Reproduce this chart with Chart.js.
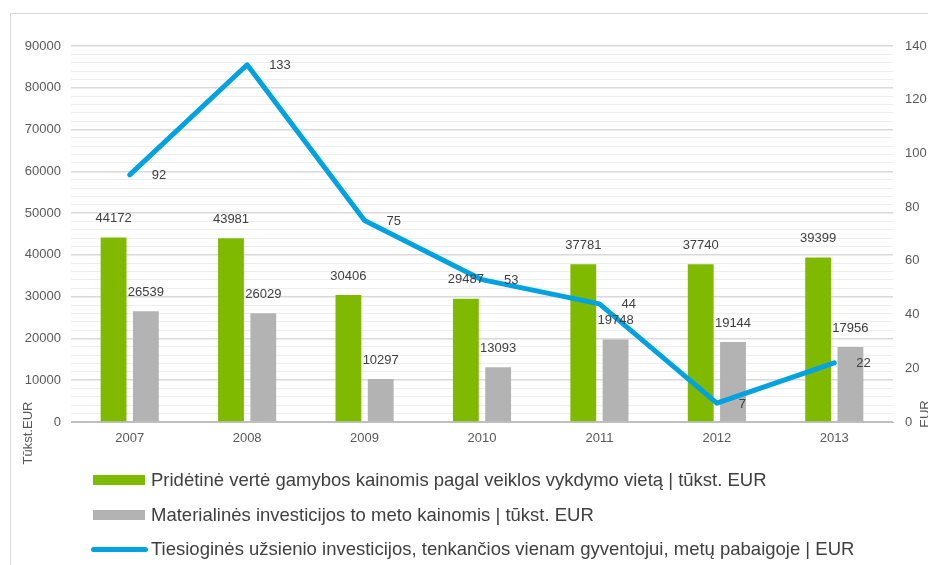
<!DOCTYPE html>
<html>
<head>
<meta charset="utf-8">
<script src="https://cdn.jsdelivr.net/npm/chart.js@4/dist/chart.umd.min.js"></script>
<style>
  html, body { margin: 0; padding: 0; background: #fff; }
  body { width: 928px; height: 565px; position: relative; overflow: hidden; font-family: "Liberation Sans", Arial, sans-serif; }
  .frame { position: absolute; left: 10px; top: 13px; width: 940px; height: 600px; border: 1px solid #d9d9d9; box-sizing: border-box; }
  .chart-wrap { position: absolute; left: 0; top: 0; width: 928px; height: 565px; }
  .legend { position: absolute; left: 91px; top: 463px; color: #404040; font-size: 18.5px; }
  .legend-row { display: flex; align-items: center; height: 34.5px; }
  .swatch { width: 52px; height: 10px; margin: 0 6px 0 2px; }
  .swatch-line { width: 57px; height: 5px; border-radius: 3px; margin-right: 3px; }
</style>
</head>
<body>
<div class="frame"></div>
<div class="chart-wrap"><canvas id="chart" width="928" height="565"></canvas></div>
<div class="legend" id="legend"></div>

<script>
// Data
const years = ["2007", "2008", "2009", "2010", "2011", "2012", "2013"];
const addedValue = [44172, 43981, 30406, 29487, 37781, 37740, 39399];
const tangibleInvest = [26539, 26029, 10297, 13093, 19748, 19144, 17956];
const fdiPerCapita = [92, 133, 75, 53, 44, 7, 22];

const seriesNames = [
  "Pridėtinė vertė gamybos kainomis pagal veiklos vykdymo vietą | tūkst. EUR",
  "Materialinės investicijos to meto kainomis | tūkst. EUR",
  "Tiesioginės užsienio investicijos, tenkančios vienam gyventojui, metų pabaigoje | EUR"
];

const GREEN = "#7fba00";
const GRAY = "#b3b3b3";
const BLUE = "#00a2df";
const TEXT = "#404040";
const TICK = "#595959";
const FONT = "'Liberation Sans', Arial, sans-serif";

// value labels for bars and line points
const valueLabels = {
  id: "valueLabels",
  afterDatasetsDraw(chart) {
    const ctx = chart.ctx;
    ctx.save();
    ctx.font = "13px " + FONT;
    ctx.fillStyle = TEXT;
    ctx.textBaseline = "middle";
    chart.data.datasets.forEach((ds, i) => {
      const meta = chart.getDatasetMeta(i);
      meta.data.forEach((el, j) => {
        const v = ds.data[j];
        if (ds.type === "line") {
          ctx.textAlign = "left";
          ctx.fillText(v, el.x + 22, el.y + 1);
        } else {
          ctx.textAlign = "center";
          ctx.fillText(v, el.x, el.y - 19);
        }
      });
    });
    ctx.restore();
  }
};

// rotated axis titles
function rotatedText(ctx, text, x, y) {
  ctx.save();
  ctx.font = "13px " + FONT;
  ctx.fillStyle = TICK;
  ctx.textAlign = "center";
  ctx.textBaseline = "middle";
  ctx.translate(x, y);
  ctx.rotate(-Math.PI / 2);
  ctx.fillText(text, 0, 0);
  ctx.restore();
}

const axisTitles = {
  id: "axisTitles",
  afterDraw(chart) {
    rotatedText(chart.ctx, "Tūkst.EUR", 28, 433);
    rotatedText(chart.ctx, "EUR", 925, 414);
  }
};

new Chart(document.getElementById("chart"), {
  data: {
    labels: years,
    datasets: [
      {
        type: "bar", label: seriesNames[0], data: addedValue, yAxisID: "y",
        backgroundColor: GREEN, order: 1,
        barPercentage: 0.8, categoryPercentage: 0.55
      },
      {
        type: "bar", label: seriesNames[1], data: tangibleInvest, yAxisID: "y",
        backgroundColor: GRAY, order: 1,
        barPercentage: 0.8, categoryPercentage: 0.55
      },
      {
        type: "line", label: seriesNames[2], data: fdiPerCapita, yAxisID: "y1",
        borderColor: BLUE, borderWidth: 5, pointRadius: 0, tension: 0,
        borderJoinStyle: "round", borderCapStyle: "round", order: 0
      }
    ]
  },
  options: {
    responsive: false,
    animation: false,
    layout: { padding: { top: 46, left: 0, right: 0, bottom: 0 } },
    plugins: {
      legend: { display: false },
      tooltip: { enabled: false }
    },
    scales: {
      x: {
        grid: { display: false, drawTicks: false },
        border: { color: "#bfbfbf", width: 1 },
        ticks: { color: TICK, font: { family: FONT, size: 13 }, padding: 9 },
        afterFit: s => { s.height = 143; }
      },
      y: {
        position: "left",
        min: 0, max: 90000,
        border: { display: false },
        grid: {
          drawTicks: false,
          color: c => (c.tick.value === 0 ? "#bfbfbf" : c.tick.value % 10000 === 0 ? "#d9d9d9" : "#eeeeee"),
          lineWidth: c => (c.tick.value % 10000 === 0 ? 1.5 : 1)
        },
        ticks: {
          stepSize: 2000, autoSkip: false, padding: 10,
          color: TICK, font: { family: FONT, size: 13 },
          callback: v => (v % 10000 === 0 ? v : "")
        },
        afterFit: s => { s.width = 71; }
      },
      y1: {
        position: "right",
        min: 0, max: 140,
        border: { display: false },
        grid: { drawOnChartArea: false, drawTicks: false },
        ticks: {
          stepSize: 20, padding: 12,
          color: TICK, font: { family: FONT, size: 13 }
        },
        afterFit: s => { s.width = 35; }
      }
    }
  },
  plugins: [valueLabels, axisTitles]
});

// HTML legend, one item per row
const legendEl = document.getElementById("legend");
const swatches = [
  '<div class="swatch" style="background:' + GREEN + '"></div>',
  '<div class="swatch" style="background:' + GRAY + '"></div>',
  '<div class="swatch-line" style="background:' + BLUE + '"></div>'
];
legendEl.innerHTML = seriesNames.map((name, i) =>
  '<div class="legend-row">' + swatches[i] + '<span>' + name + '</span></div>'
).join("");
</script>
</body>
</html>
